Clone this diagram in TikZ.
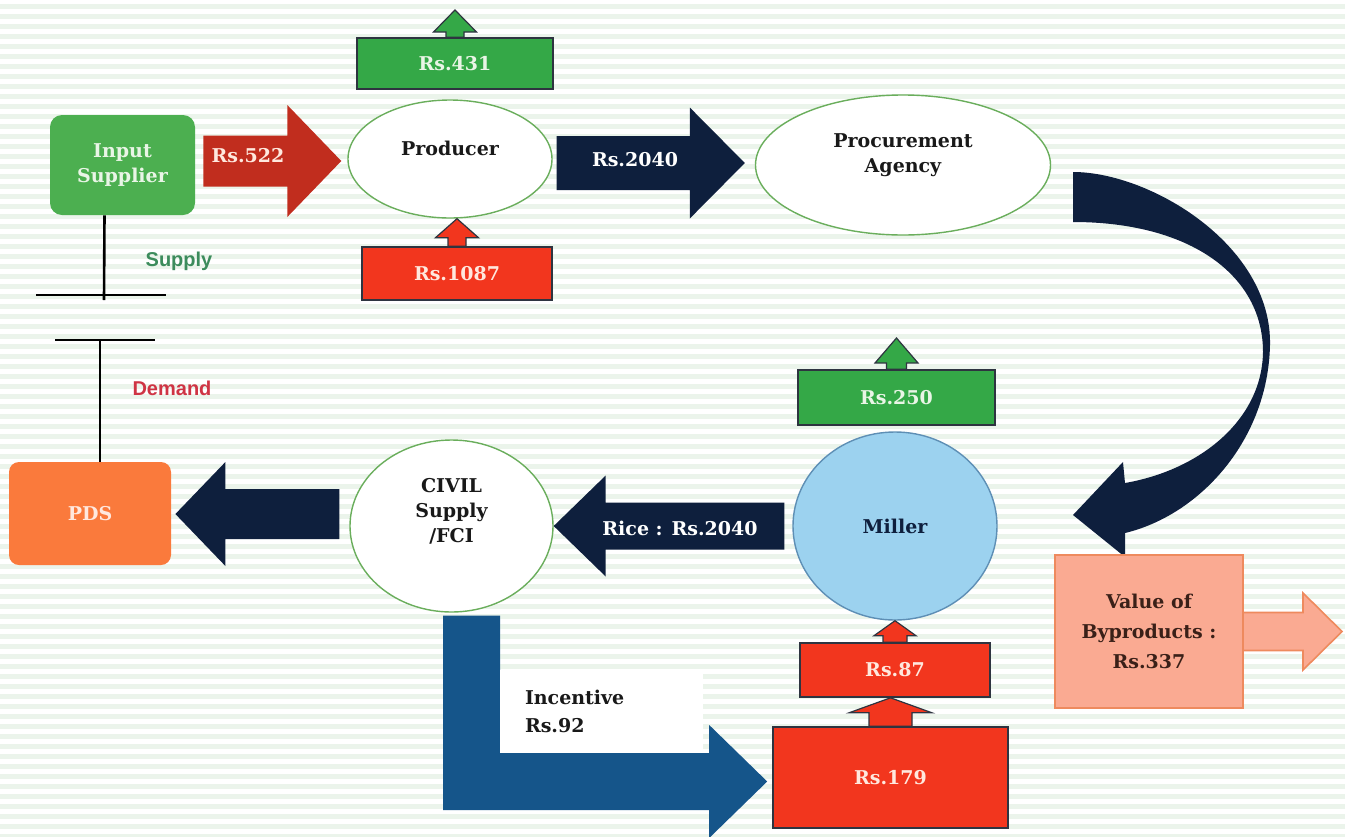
\documentclass[tikz,border=0pt]{standalone}
\usepackage{fontspec}
\usepackage{tikz}
\usetikzlibrary{shapes,calc,positioning}
\newfontfamily\labelsans{Liberation Sans}
\newfontfamily\labelserif{DejaVu Serif}
\definecolor{vcNavy}{HTML}{0E1F3D}
\definecolor{vcBlue}{HTML}{15558A}
\definecolor{vcGreen}{HTML}{4CAF50}
\definecolor{vcBoxGreen}{HTML}{34A847}
\definecolor{vcRed}{HTML}{F2361E}
\definecolor{vcDarkRed}{HTML}{C12D1E}
\definecolor{vcOrange}{HTML}{FA7A3C}
\definecolor{vcSalmon}{HTML}{FAAA92}
\definecolor{vcSalmonLine}{HTML}{EE8A5E}
\definecolor{vcSky}{HTML}{9CD2EF}
\definecolor{vcSkyLine}{HTML}{5E8FB5}
\definecolor{vcOval}{HTML}{6AAE5C}
\definecolor{vcStripe}{HTML}{EBF4EB}
\definecolor{vcEdge}{HTML}{2E3440}
\definecolor{vcSupply}{HTML}{3C8C5C}
\definecolor{vcDemand}{HTML}{CF3444}
\definecolor{vcPale}{HTML}{E9F5E6}
\definecolor{vcPink}{HTML}{FFE8DE}
\definecolor{vcInk}{HTML}{191919}
\definecolor{vcBrown}{HTML}{3A2018}
\newcommand{\vcFont}{\labelserif\bfseries\fontsize{9.5}{12.5}\selectfont}
% block arrows: style, tail, tip, shaft half, head half, head length
\newcommand{\hBlock}[6]{%
  \path[#1] let \p1=(#2), \p2=(#3) in
    (\x1,{\y1+#4}) -- ({\x2-(#6)},{\y1+#4}) -- ({\x2-(#6)},{\y1+#5}) -- (\x2,\y1)
    -- ({\x2-(#6)},{\y1-#5}) -- ({\x2-(#6)},{\y1-#4}) -- (\x1,{\y1-#4}) -- cycle;}
\newcommand{\vBlock}[6]{%
  \path[#1] let \p1=(#2), \p2=(#3) in
    ({\x1-#4},\y1) -- ({\x1-#4},{\y2-#6}) -- ({\x1-#5},{\y2-#6}) -- (\x1,\y2)
    -- ({\x1+#5},{\y2-#6}) -- ({\x1+#4},{\y2-#6}) -- ({\x1+#4},\y1) -- cycle;}
\tikzset{
    vcBase/.style={font=\vcFont, align=center, inner sep=2pt},
    vcOvalNode/.style={vcBase, ellipse, draw=vcOval, line width=0.7pt, fill=white},
    vcGreenBox/.style={vcBase, rectangle, fill=vcBoxGreen, draw=vcEdge, line width=0.8pt, text=vcPale},
    vcRedBox/.style={vcBase, rectangle, fill=vcRed, draw=vcEdge, line width=0.8pt, text=vcPink},
    vcRound/.style={vcBase, rectangle, rounded corners=6pt},
    vcArrowText/.style={font=\vcFont, inner sep=1pt},
    vcBar/.style={line width=1.3pt, draw=black},
    vcTag/.style={font=\labelsans\bfseries\fontsize{10}{12}\selectfont}
}
\begin{document}
\begin{tikzpicture}[x=0.5pt, y=-0.5pt]

% --- background ---
\useasboundingbox (0,0) rectangle (1345,836);
\fill[white] (0,0) rectangle (1345,836);
\foreach \k in {0,...,83}
    \fill[vcStripe] (0,{10*\k+4}) rectangle (1345,{10*\k+9});

% --- Row 1 ---
\node[vcRound, fill=vcGreen, text=vcPale, minimum width=72.5pt, minimum height=50pt] (insup) at (122.5,165) {Input\\Supplier};
\node[vcOvalNode, minimum width=102pt, minimum height=59pt,
    label={[vcBase, text=vcInk, yshift=5.5pt]center:Producer}] (prod) at (450,159) {};
\node[vcOvalNode, minimum width=147.5pt, minimum height=70pt,
    label={[vcBase, text=vcInk, yshift=5pt]center:Procurement\\Agency}] (proc) at (903,165) {};
\node[vcGreenBox, minimum width=98pt, minimum height=25.5pt] (out431) at (455,63.5) {Rs.431};
\node[vcRedBox, minimum width=95pt, minimum height=26.5pt] (in1087) at (457,273.5) {Rs.1087};

% arrows of row 1
\hBlock{fill=vcDarkRed}{[xshift=4pt,yshift=2pt]insup.east}{[xshift=-3pt]prod.west}{12.75pt}{28pt}{27pt}
\node[vcArrowText, text=vcPink] (t522) at (248,156) {Rs.522};
\hBlock{fill=vcNavy}{[xshift=2pt,yshift=-2pt]prod.east}{[xshift=-5pt]proc.west}{13.5pt}{27.75pt}{27.5pt}
\node[vcArrowText, text=white] (t2040) at (635,160) {Rs.2040};
\coordinate (tip431) at (455,10);
\vBlock{fill=vcBoxGreen, draw=vcEdge, line width=0.6pt}{out431.north}{tip431}{4.5pt}{10.75pt}{11pt}
\vBlock{fill=vcRed, draw=vcEdge, line width=0.6pt}{in1087.north}{prod.south}{4.5pt}{10.75pt}{9.5pt}

% --- Curved arrow down to the miller ---
\fill[vcNavy] (1073,172) .. controls (1150,172) and (1272,245) .. (1270,345)
    .. controls (1268,440) and (1200,515) .. (1125,533) -- (1125,557) -- (1073,515)
    -- (1123,462) -- (1125,483) .. controls (1200,470) and (1262,420) .. (1263,352)
    .. controls (1263,275) and (1190,222) .. (1073,222) -- cycle;

% --- Miller column ---
\node[vcBase, ellipse, fill=vcSky, draw=vcSkyLine, line width=0.7pt, text=vcNavy, minimum width=102pt, minimum height=94pt] (miller) at (895,526) {Miller};
\node[vcGreenBox, minimum width=98.5pt, minimum height=27.5pt] (out250) at (896.5,397.5) {Rs.250};
\node[vcRedBox, minimum width=95pt, minimum height=27pt] (in87) at (895,670) {Rs.87};
\node[vcRedBox, minimum width=117.5pt, minimum height=50.5pt] (in179) at (890.5,777.5) {Rs.179};
\coordinate (tip250) at (896.5,338);
\vBlock{fill=vcBoxGreen, draw=vcEdge, line width=0.6pt}{out250.north}{tip250}{5pt}{10.75pt}{12.5pt}
\vBlock{fill=vcRed, draw=vcEdge, line width=0.6pt}{in87.north}{miller.south}{6pt}{10.5pt}{7.5pt}
\vBlock{fill=vcRed, draw=vcEdge, line width=0.6pt}{in179.north}{in87.south}{10.75pt}{20.75pt}{7.5pt}

% --- Byproducts ---
\coordinate (bypTip) at (1342,631.5);
\hBlock{fill=vcSalmon, draw=vcSalmonLine, line width=0.8pt}{[xshift=-1pt]1243,631.5}{bypTip}{9.5pt}{19.25pt}{19.5pt}
\node[vcBase, rectangle, fill=vcSalmon, draw=vcSalmonLine, line width=0.8pt, text=vcBrown, minimum width=94pt, minimum height=76.5pt] (byp) at (1149,631.5) {Value of\\[2.5pt]Byproducts :\\[2.5pt]Rs.337};

% --- Row 2 ---
\node[vcOvalNode, minimum width=101.5pt, minimum height=86pt,
    label={[vcBase, text=vcInk, yshift=7.5pt]center:CIVIL\\Supply\\/FCI}] (civil) at (451.5,526) {};
\node[vcRound, rounded corners=5pt, fill=vcOrange, text=vcPink, minimum width=81pt, minimum height=51.5pt] (pds) at (90,513.5) {PDS};
\hBlock{fill=vcNavy}{[xshift=-4pt]miller.west}{civil.east}{11.75pt}{25.25pt}{-26pt}
\node[vcArrowText, text=white] (trice) at (680,528) {Rice : Rs.2040};
\hBlock{fill=vcNavy}{[xshift=-5pt,yshift=6pt]civil.west}{[xshift=2pt]pds.east}{12.5pt}{26pt}{-25pt}

% --- Incentive ---
\coordinate (incStart) at ([xshift=-4.25pt,yshift=-1.5pt]civil.south);
\coordinate (incTip) at ([xshift=-2.5pt,yshift=-2pt]in179.west);
\path[fill=vcBlue] let \p1=(incStart), \p2=(incTip) in
    (\x1,\y1) -- ({\x1+28.5pt},\y1) -- ({\x1+28.5pt},{\y2+14.25pt}) -- ({\x2-29pt},{\y2+14.25pt})
    -- ({\x2-29pt},{\y2+28.25pt}) -- (\x2,\y2) -- ({\x2-29pt},{\y2-28.25pt})
    -- ({\x2-29pt},{\y2-14.25pt}) -- (\x1,{\y2-14.25pt}) -- cycle;
\node[vcBase, fill=white, align=left, text=vcInk, text width=76.5pt, inner xsep=12.5pt, minimum width=101.5pt, minimum height=41.5pt] (incent) at (601.5,711.5) {Incentive\\[1.5pt]Rs.92};

% --- Supply / Demand ---
\coordinate (supBase) at (104,300);
\coordinate (supL) at (36,295);
\coordinate (supR) at (166,295);
\draw[vcBar] ([xshift=-9pt]insup.south) -- (supBase);
\draw[vcBar] (supL) -- (supR);
\coordinate (demL) at (55,340);
\coordinate (demR) at (155,340);
\coordinate (demTop) at (100,340);
\draw[vcBar] (demL) -- (demR);
\draw[vcBar] (demTop) -- ([xshift=5pt]pds.north);
\node[vcTag, text=vcSupply] (supply) at (179,261) {Supply};
\node[vcTag, text=vcDemand] (demand) at (172,388) {Demand};

\end{tikzpicture}
\end{document}
